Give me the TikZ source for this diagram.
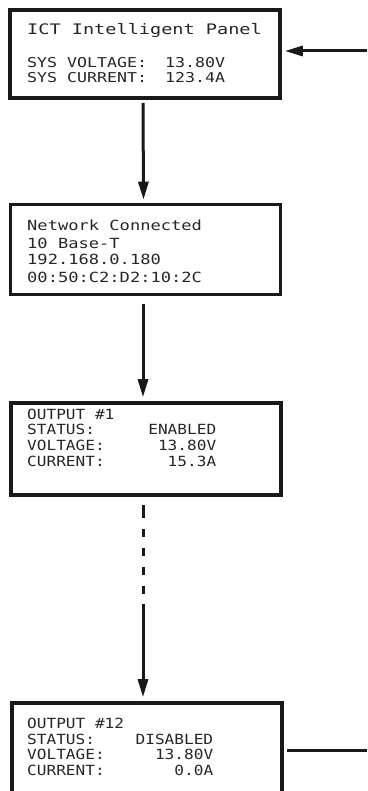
\documentclass[tikz,border=0pt]{standalone}
\usepackage{fontspec}
\usetikzlibrary{arrows.meta}
\newfontfamily\lcdA[FakeStretch=1.28]{DejaVu Sans Mono}
\newfontfamily\lcdB[FakeStretch=1.22]{DejaVu Sans Mono}
\newfontfamily\lcdC[FakeStretch=1.15]{DejaVu Sans Mono}
\tikzset{
  panel/.style={draw=black!90, line width=3.6pt, rectangle, inner sep=0pt,
                minimum width=270pt, minimum height=90pt},
  txt/.style={anchor=base west, inner sep=0pt, text=black!85},
  conn/.style={draw=black!90, line width=3pt},
  arr/.style={conn, -{Triangle[length=18pt,width=10pt]}},
}
\begin{document}
\begin{tikzpicture}[x=1pt,y=-1pt]
\useasboundingbox (0,0) rectangle (367,791);
\clip (0,0) rectangle (367,791);

% panels
\node[panel, minimum height=88pt] (box1) at (145,54) {};
\node[panel] (box2) at (145.5,249.5) {};
\node[panel, minimum height=92pt] (box3) at (146,449) {};
\node[panel] (box4) at (147,748) {};

% texts panel 1
\node[txt, font=\lcdA\fontsize{14.5}{14.5}\selectfont] (t11) at (27,35) {ICT Intelligent Panel};
\node[txt, font=\lcdB\fontsize{13.6}{13.6}\selectfont] (t12) at (27,68) {\makebox[138pt][l]{SYS VOLTAGE:}13.80V};
\node[txt, font=\lcdB\fontsize{13.6}{13.6}\selectfont] (t13) at (27,83) {\makebox[138pt][l]{SYS CURRENT:}123.4A};

% texts panel 2
\node[txt, font=\lcdB\fontsize{14}{14}\selectfont] (t21) at (27,231) {Network Connected};
\node[txt, font=\lcdB\fontsize{14}{14}\selectfont] (t22) at (27,248) {10 Base-T};
\node[txt, font=\lcdB\fontsize{14}{14}\selectfont] (t23) at (27,265) {192.168.0.180};
\node[txt, font=\lcdB\fontsize{14}{14}\selectfont] (t24) at (27,282) {00:50:C2:D2:10:2C};

% texts panel 3
\node[txt, font=\lcdC\fontsize{14}{14}\selectfont] (t31) at (27,419) {OUTPUT \#1};
\node[txt, font=\lcdC\fontsize{14}{14}\selectfont] (t32) at (27,434) {\makebox[189pt][l]{STATUS:\hfill ENABLED}};
\node[txt, font=\lcdC\fontsize{14}{14}\selectfont] (t33) at (27,450) {\makebox[189pt][l]{VOLTAGE:\hfill 13.80V}};
\node[txt, font=\lcdC\fontsize{14}{14}\selectfont] (t34) at (27,466) {\makebox[189pt][l]{CURRENT:\hfill 15.3A}};

% texts panel 4
\node[txt, font=\lcdC\fontsize{14}{14}\selectfont] (t41) at (27,728) {OUTPUT \#12};
\node[txt, font=\lcdC\fontsize{14}{14}\selectfont] (t42) at (27,744) {\makebox[186pt][l]{STATUS:\hfill DISABLED}};
\node[txt, font=\lcdC\fontsize{14}{14}\selectfont] (t43) at (27,759) {\makebox[186pt][l]{VOLTAGE:\hfill 13.80V}};
\node[txt, font=\lcdC\fontsize{14}{14}\selectfont] (t44) at (27,775) {\makebox[186pt][l]{CURRENT:\hfill 0.0A}};

% connectors
\coordinate (in1) at (367,51);
\coordinate (out4) at (367,750);
\draw[arr, shorten >=3pt] (in1) -- (box1.east |- in1);
\draw[arr, shorten <=3pt, shorten >=3pt] ([xshift=-2pt]box1.south) -- ([xshift=-2pt]box2.north);
\draw[arr, shorten <=8pt, shorten >=4pt] ([xshift=-2.5pt]box2.south) -- ([xshift=-3pt]box3.north);
\draw[arr, shorten <=8pt, shorten >=4pt,
      dash pattern=on 13pt off 11pt on 8pt off 11pt on 8pt off 11pt on 8pt off 11pt on 8pt off 10pt on 300pt]
      ([xshift=-3pt]box3.south) -- ([xshift=-4pt]box4.north);
\draw[conn, shorten <=3pt] (box4.east |- out4) -- (out4);
\end{tikzpicture}
\end{document}
